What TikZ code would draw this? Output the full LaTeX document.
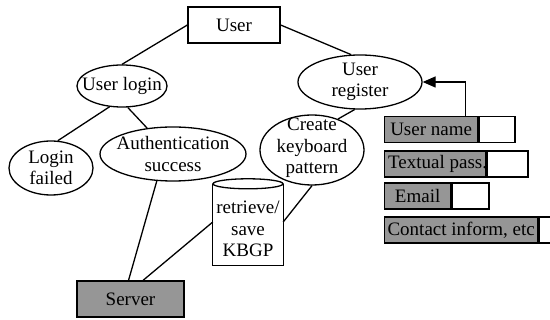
\documentclass[tikz,border=0pt]{standalone}
\usepackage{fontspec}
\setmainfont{Liberation Serif}
\usetikzlibrary{shapes.geometric,arrows.meta}
\definecolor{boxgray}{RGB}{150,150,150}
\begin{document}
\begin{tikzpicture}[x=1pt,y=-1pt,
  every node/.style={font=\fontsize{19}{21.5}\selectfont},
  ln/.style={line width=1.3pt},
  ell/.style={ellipse, draw, line width=1.3pt, inner sep=0pt},
  txt/.style={align=center, inner sep=0pt},
  rbox/.style={rectangle, draw, line width=1.3pt, inner sep=0pt},
  field/.style={rbox, fill=boxgray, anchor=west, minimum height=26pt},
  blank/.style={rbox, fill=white, anchor=west, minimum height=26pt}]
\useasboundingbox (0,0) rectangle (550,320);

\node[rbox, minimum width=92pt, minimum height=36pt] (user) at (234,25) {User};
\node[ell, minimum width=90pt, minimum height=42pt] (ulogin) at (122,86) {};
\node[txt] (ulogin-t) at (ulogin) {User login};
\node[ell, minimum width=124pt, minimum height=54pt] (ureg) at (360,82) {};
\node[txt] (ureg-t) at (ureg) {User\\register};
\node[ell, minimum width=84pt, minimum height=54pt] (lfail) at (51,168) {};
\node[txt] (lfail-t) at (lfail) {Login\\failed};
\node[ell, minimum width=146pt, minimum height=54pt] (auth) at (173,154) {};
\node[txt] (auth-t) at (auth) {Authentication\\success};
\node[ell, minimum width=104pt, minimum height=70pt] (ckp) at (312,150) {};
\node[txt] (ckp-t) at (312,148) {Create\\keyboard\\pattern};
\node[minimum width=70pt, minimum height=86pt, inner sep=0pt] (kbgp) at (248,222) {};
\draw[ln, fill=white] ([yshift=-5pt]kbgp.north west) -- (kbgp.south west) -- (kbgp.south east) -- ([yshift=-5pt]kbgp.north east);
\draw[ln] ([yshift=-5pt]kbgp.north) ellipse [x radius=35pt, y radius=5pt];
\node[txt] (kbgp-t) at (248,229) {retrieve/\\save\\KBGP};
\node[rbox, fill=boxgray, minimum width=107pt, minimum height=36pt] (server) at (130.5,299) {Server};

\draw[ln] (user.west) -- (ulogin.north);
\draw[ln] (user.east) -- (ureg.108);
\draw[ln] (ulogin.239) -- (lfail.76);
\draw[ln] (ulogin.285) -- (auth.135);
\draw[ln] (auth.239) -- (server.96);
\draw[ln] (kbgp.west) -- (server.56);
\draw[ln] (ckp.south) -- (kbgp.east);
\draw[ln] (ureg.259) -- (ckp.50);

\node[field, minimum width=93pt] (un) at (384,129.5) {User name};
\node[blank, minimum width=36pt] (unw) at (un.east) {};
\node[field, minimum width=101pt] (tp) at (384,164) {};
\node[blank, minimum width=41pt] (tpw) at (tp.east) {};
\node[txt, anchor=west] (tp-t) at (388,164) {Textual pass.};
\node[field, minimum width=66pt] (em) at (384,196) {Email};
\node[blank, minimum width=37pt] (emw) at (em.east) {};
\node[field, minimum width=153pt] (ci) at (384,230) {Contact inform, etc};
\node[blank, minimum width=15pt] (ciw) at (ci.east) {};
\draw[ln, -{Triangle[length=13pt,width=11pt]}] ([xshift=-13pt]un.north east) |- (ureg.east);
\end{tikzpicture}
\end{document}
